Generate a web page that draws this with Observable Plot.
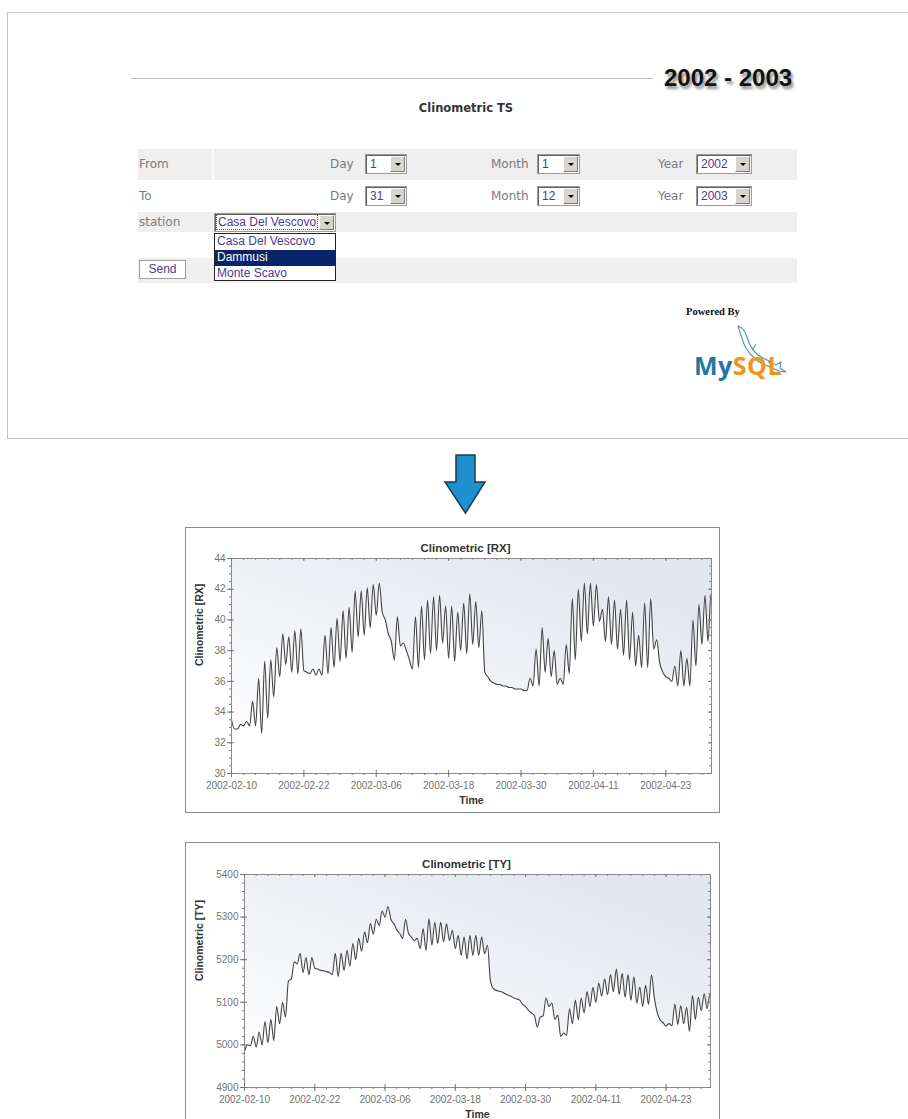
<!DOCTYPE html>
<html>
<head>
<meta charset="utf-8">
<script src="https://cdn.jsdelivr.net/npm/d3@7"></script>
<script src="https://cdn.jsdelivr.net/npm/@observablehq/plot@0.6"></script>
<style>
  html, body { margin: 0; padding: 0; background: #fff; }
  body { width: 908px; height: 1119px; overflow: hidden; position: relative; font-family: "DejaVu Sans", Verdana, sans-serif; }
  .abs { position: absolute; }
  .panel { left: 7px; top: 12px; width: 910px; height: 427px; border: 1px solid #c4c4c4; border-right: none; box-sizing: border-box; }
  .rowbg { position: absolute; left: 138px; width: 659px; background: #efefef; }
  .lbl { position: absolute; font-size: 12px; color: #7a7a7a; line-height: 14px; }
  .sel { position: absolute; height: 20px; border: 1px solid #9a9a9a; box-shadow: inset 1px 1px 0 #606060; background: #fff; box-sizing: border-box;
         font: 12px "Liberation Sans", Arial, sans-serif; color: #4b3b8f; line-height: 18px; padding-left: 4px; }
  .btn { position: absolute; right: 1px; top: 1px; width: 15px; height: 16px; background: #d8d5ce; border: 1px solid; border-color: #fff #7a7a7a #7a7a7a #fff; box-sizing: border-box; }
  .btn::after { content: ""; position: absolute; left: 4px; top: 6px; border-left: 3px solid transparent; border-right: 3px solid transparent; border-top: 3px solid #000; }
  .opt { height: 16px; line-height: 16px; padding-left: 2px; font: 12px "Liberation Sans", Arial, sans-serif; color: #4b3b8f; }
  .chartbox { position: absolute; left: 185px; width: 533px; border: 1px solid #8c8c8c; background: #fff; }
</style>
</head>
<body>
<!-- web form screenshot part -->
<div class="abs panel"></div>
<div class="abs" style="left:131px;top:78px;width:522px;height:1px;background:#bdbdbd"></div>
<div class="abs" style="left:664px;top:65px;font:bold 24px 'Liberation Sans',Arial,sans-serif;color:#111;line-height:26px;text-shadow:2px 3px 3px rgba(0,0,0,0.45)">2002 - 2003</div>
<div class="abs" style="left:366px;top:101px;width:200px;text-align:center;font:bold 11.5px 'DejaVu Sans',Verdana,sans-serif;color:#333">Clinometric TS</div>

<div class="rowbg" style="top:149px;height:31px"></div>
<div class="abs" style="left:212px;top:149px;width:2px;height:31px;background:#fafafa"></div>
<div class="rowbg" style="top:212px;height:20px"></div>
<div class="rowbg" style="top:258px;height:25px"></div>

<div class="lbl" style="left:139px;top:157px">From</div>
<div class="lbl" style="left:330px;top:157px">Day</div>
<div class="lbl" style="left:491px;top:157px">Month</div>
<div class="lbl" style="left:658px;top:157px">Year</div>
<div class="sel" style="left:365px;top:154px;width:42px">1<i class="btn"></i></div>
<div class="sel" style="left:537px;top:154px;width:43px">1<i class="btn"></i></div>
<div class="sel" style="left:696px;top:154px;width:56px">2002<i class="btn"></i></div>

<div class="lbl" style="left:139px;top:189px">To</div>
<div class="lbl" style="left:330px;top:189px">Day</div>
<div class="lbl" style="left:491px;top:189px">Month</div>
<div class="lbl" style="left:658px;top:189px">Year</div>
<div class="sel" style="left:365px;top:186px;width:42px">31<i class="btn"></i></div>
<div class="sel" style="left:537px;top:186px;width:43px">12<i class="btn"></i></div>
<div class="sel" style="left:696px;top:186px;width:56px">2003<i class="btn"></i></div>

<div class="lbl" style="left:139px;top:215px">station</div>
<div class="sel" style="left:214px;top:213px;width:122px;height:19px;line-height:17px;padding-left:2px"><span style="outline:1px dotted #555;padding:0 1px">Casa Del Vescovo</span><i class="btn" style="height:15px"></i></div>
<div class="abs" style="left:214px;top:233px;width:122px;height:48px;border:1px solid #222;background:#fff;box-sizing:border-box">
  <div class="opt">Casa Del Vescovo</div>
  <div class="opt" style="background:#0a246a;color:#fff">Dammusi</div>
  <div class="opt">Monte Scavo</div>
</div>
<div class="abs" style="left:139px;top:260px;width:47px;height:19px;border:1px solid #a0a0a0;box-sizing:border-box;background:#fff;text-align:center;font:12px 'Liberation Sans',Arial,sans-serif;color:#4b3b8f;line-height:17px">Send</div>

<div class="abs" style="left:686px;top:306px;font:bold 10.5px 'Liberation Serif','Times New Roman',serif;color:#111">Powered By</div>
<svg class="abs" style="left:728px;top:324px" width="66" height="56" viewBox="0 0 66 56">
  <path d="M10,2 C14,3 17,7 19,13 C21,20 24,26 30,31 C36,35 42,37 48,41 L53,38 L52,44 L58,48 L51,47 C44,44 38,41 31,38 C24,33 19,27 16,20 C14,14 12,9 10,2 Z M24,26 L28,20 M40,37 L44,42"
        fill="none" stroke="#5a95b5" stroke-width="1.2" stroke-linejoin="round"/>
</svg>
<div class="abs" style="left:694px;top:351px;font:bold 25px 'Open Sans',Lato,sans-serif;letter-spacing:0.5px;line-height:28px"><span style="color:#22799f">My</span><span style="color:#f0961b">SQL</span></div>

<!-- arrow -->
<svg class="abs" style="left:440px;top:450px" width="52" height="70">
  <polygon points="16,5 35,5 35,32 45,32 25.5,63 5,32 16,32" fill="#1e90cf" stroke="#1d3a52" stroke-width="1.5" stroke-linejoin="miter"/>
</svg>

<div id="chart1" class="chartbox" style="top:527px;height:284px"></div>
<div id="chart2" class="chartbox" style="top:842px;height:290px"></div>

<script>
// ---------------- data ----------------
// Readings every 12 hours starting 2002-02-10 00:00
const seriesStart = "2002-02-10T00:00Z";
const stepHours = 12;
const xDomainEnd = "2002-04-30T14:00Z";
const xTickLabels = ["2002-02-10", "2002-02-22", "2002-03-06", "2002-03-18", "2002-03-30", "2002-04-11", "2002-04-23"];

const rxValues = [
  33.5, 32.9, 32.9, 33.2, 33.1, 33.4, 33.1, 34.7, 33.1, 36.2,
  32.6, 37.3, 33.6, 37.4, 35.0, 38.2, 36.3, 39.1, 37.1, 38.9,
  36.6, 39.3, 36.5, 39.4, 36.7, 36.6, 36.5, 36.8, 36.4, 36.8,
  36.4, 39.0, 36.5, 39.5, 36.9, 40.1, 37.3, 40.6, 37.5, 40.8,
  37.9, 41.9, 38.9, 41.9, 39.0, 42.1, 39.5, 42.3, 40.3, 42.4,
  40.5, 40.0, 39.1, 38.6, 37.4, 40.2, 38.3, 38.5, 38.0, 37.4,
  36.8, 40.2, 36.9, 40.9, 37.4, 41.3, 37.8, 41.5, 38.0, 41.6,
  38.5, 40.9, 37.5, 40.9, 37.3, 40.5, 38.0, 41.1, 37.8, 41.7,
  38.4, 41.2, 38.2, 40.6, 36.6, 36.3, 36.0, 35.9, 35.8, 35.8,
  35.7, 35.7, 35.6, 35.6, 35.5, 35.5, 35.5, 35.4, 35.4, 36.2,
  35.7, 38.1, 35.7, 39.5, 36.6, 38.8, 36.3, 38.0, 35.8, 36.2,
  35.8, 38.4, 36.5, 41.4, 37.4, 42.0, 38.6, 42.4, 39.1, 42.4,
  39.6, 42.3, 39.9, 40.7, 38.6, 41.5, 38.4, 41.3, 38.1, 40.7,
  37.7, 41.3, 37.4, 40.5, 37.0, 39.0, 36.9, 41.1, 36.9, 41.4,
  38.1, 38.7, 37.2, 36.6, 36.3, 36.2, 36.0, 37.0, 35.7, 38.0,
  35.7, 37.5, 35.7, 40.0, 37.0, 41.0, 38.4, 41.6, 38.6, 41.7,
  38.7
];

const tyValues = [
  4985, 5000, 4998, 5020, 4995, 5030, 5000, 5055, 5005, 5060,
  5010, 5090, 5050, 5100, 5065, 5150, 5155, 5195, 5190, 5215,
  5170, 5205, 5165, 5205, 5180, 5178, 5175, 5174, 5172, 5170,
  5165, 5215, 5160, 5215, 5175, 5222, 5185, 5238, 5200, 5250,
  5220, 5265, 5240, 5285, 5260, 5295, 5280, 5315, 5300, 5325,
  5295, 5285, 5270, 5262, 5250, 5295, 5262, 5253, 5245, 5250,
  5226, 5273, 5222, 5296, 5234, 5288, 5238, 5288, 5242, 5284,
  5245, 5269, 5226, 5257, 5210, 5253, 5202, 5257, 5210, 5257,
  5210, 5253, 5214, 5234, 5150, 5132, 5128, 5126, 5124, 5120,
  5117, 5114, 5110, 5108, 5105, 5095, 5090, 5081, 5075, 5069,
  5042, 5065, 5068, 5110, 5090, 5098, 5060, 5070, 5020, 5028,
  5022, 5085, 5050, 5105, 5060, 5110, 5075, 5125, 5090, 5135,
  5100, 5145, 5115, 5155, 5118, 5165, 5125, 5178, 5118, 5168,
  5112, 5165, 5105, 5160, 5098, 5136, 5090, 5140, 5095, 5164,
  5110, 5075, 5058, 5052, 5044, 5050, 5045, 5096, 5048, 5092,
  5050, 5088, 5032, 5116, 5060, 5112, 5080, 5120, 5085, 5120,
  5092
];

const rxTicks = [30, 32, 34, 36, 38, 40, 42, 44];
const tyTicks = [4900, 5000, 5100, 5200, 5300, 5400];
const rxMinorStep = 0.5;
const tyMinorStep = 20;
const xMinorStepDays = 2;

// ---------------- build ----------------
const t0 = new Date(seriesStart);
const toRows = vals => vals.map((v, i) => ({t: new Date(+t0 + i * stepHours * 3600e3), v}));
const xMajor = xTickLabels.map(s => new Date(s + "T00:00Z"));
const xEnd = new Date(xDomainEnd);
const xMinor = d3.utcDay.range(t0, xEnd).filter((d, i) => i % xMinorStepDays === 0);

function chart({el, id, values, yTicks, minorStep, title, width, height, ml, mr, mt, mb, titleDx}) {
  const rows = toRows(values);
  const yDomain = [yTicks[0], yTicks[yTicks.length - 1]];
  const yMinor = d3.range(yDomain[0], yDomain[1] + minorStep / 2, minorStep);
  const fw = width - ml - mr, fh = height - mt - mb;
  const svg = Plot.plot({
    width, height, marginLeft: ml, marginRight: mr, marginTop: mt, marginBottom: mb,
    style: {fontFamily: "'Liberation Sans', Arial, sans-serif", fontSize: "10px", color: "#737373", background: "transparent", overflow: "visible"},
    x: {type: "utc", domain: [t0, xEnd], label: null},
    y: {domain: yDomain, label: null},
    marks: [
      Plot.frame({fill: `url(#${id})`, stroke: null}),
      Plot.areaY(rows, {x: "t", y: "v", fill: "#ffffff", curve: "monotone-x", clip: true}),
      Plot.lineY(rows, {x: "t", y: "v", stroke: "#424242", strokeWidth: 1.1, curve: "monotone-x", clip: true}),
      Plot.frame({stroke: "#8a8a8a"}),
      // outward axes
      Plot.axisX(xMajor, {tickSize: 4, tickPadding: 4, tickFormat: d3.utcFormat("%Y-%m-%d"), label: null, stroke: "#777"}),
      Plot.axisX(xMinor, {tickSize: 2, tickFormat: () => "", label: null, stroke: "#777"}),
      Plot.axisY(yTicks, {tickSize: 4, tickPadding: 2, tickFormat: d => String(d), label: null, stroke: "#777"}),
      Plot.axisY(yMinor, {tickSize: 2, tickFormat: () => "", label: null, stroke: "#777"}),
      // inward ticks on all four edges
      Plot.tickX(xMajor, {x: d => d, stroke: "#777", insetTop: fh - 3}),
      Plot.tickX(xMinor, {x: d => d, stroke: "#888", insetBottom: fh - 2}),
      Plot.tickX(xMajor, {x: d => d, stroke: "#777", insetBottom: fh - 3}),
      Plot.tickY(yTicks, {y: d => d, stroke: "#777", insetRight: fw - 3}),
      Plot.tickY(yMinor, {y: d => d, stroke: "#888", insetLeft: fw - 2}),
      Plot.tickY(yTicks, {y: d => d, stroke: "#777", insetLeft: fw - 3}),
      // titles
      Plot.text([title], {text: d => d, frameAnchor: "top", dy: -15, dx: titleDx, fontWeight: "bold", fontSize: 11.5, fill: "#333"}),
      Plot.text([title], {text: d => d, frameAnchor: "left", rotate: -90, dx: 199 - (186 + ml), fontWeight: "bold", fontSize: 10.5, fill: "#333"}),
      Plot.text(["Time"], {text: d => d, frameAnchor: "bottom", dy: 30, fontWeight: "bold", fontSize: 10.5, fill: "#333"})
    ]
  });
  const defs = d3.select(svg).insert("defs", ":first-child");
  const g = defs.append("linearGradient").attr("id", id)
    .attr("x1", "0").attr("y1", "0.9").attr("x2", "0.75").attr("y2", "0");
  g.append("stop").attr("offset", "0").attr("stop-color", "#ffffff");
  g.append("stop").attr("offset", "1").attr("stop-color", "#e2e6ed");
  document.getElementById(el).appendChild(svg);
}

chart({el: "chart1", id: "gradRX", values: rxValues, yTicks: rxTicks, minorStep: rxMinorStep,
       title: "Clinometric [RX]", width: 533, height: 284, ml: 45, mr: 8, mt: 30, mb: 39, titleDx: -6});
chart({el: "chart2", id: "gradTY", values: tyValues, yTicks: tyTicks, minorStep: tyMinorStep,
       title: "Clinometric [TY]", width: 533, height: 279, ml: 58, mr: 9, mt: 31, mb: 35, titleDx: -11});
</script>
</body>
</html>
